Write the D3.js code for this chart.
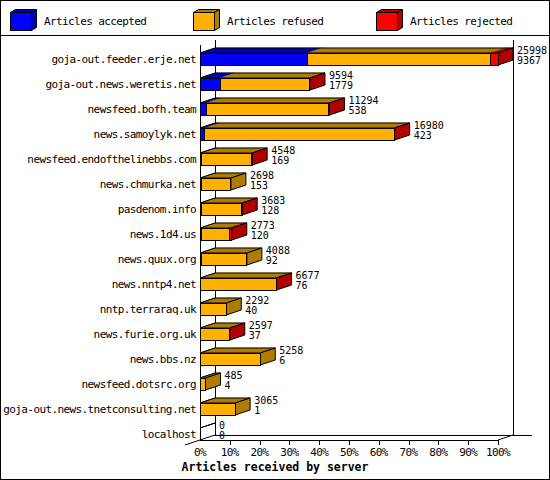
<!DOCTYPE html>
<html>
<head>
<meta charset="utf-8">
<script src="https://cdn.jsdelivr.net/npm/d3@7"></script>
<style>
	body { margin: 0; background: #fff; }
	text { font-family: "DejaVu Sans Mono", monospace; font-size: 11px; letter-spacing: -0.6px; fill: #000; }
	text.count { font-size: 10px; letter-spacing: 0px; }
</style>
</head>
<body>
<div id="serverchart"></div>
<script>
var hosts = [
	"goja-out.feeder.erje.net",
	"goja-out.news.weretis.net",
	"newsfeed.bofh.team",
	"news.samoylyk.net",
	"newsfeed.endofthelinebbs.com",
	"news.chmurka.net",
	"pasdenom.info",
	"news.1d4.us",
	"news.quux.org",
	"news.nntp4.net",
	"nntp.terraraq.uk",
	"news.furie.org.uk",
	"news.bbs.nz",
	"newsfeed.dotsrc.org",
	"goja-out.news.tnetconsulting.net",
	"localhost"
];
var accepted = [9367, 1779, 538, 423, 169, 153, 128, 120, 92, 76, 40, 37, 6, 4, 1, 0];
var refused  = [15981, 7775, 10716, 16507, 4359, 2545, 3535, 2453, 3996, 6561, 2252, 2540, 5252, 481, 3064, 0];
var rejected = [650, 40, 40, 50, 20, 0, 20, 200, 0, 40, 0, 20, 0, 0, 0, 0];
var legendLabels = ["Articles accepted", "Articles refused", "Articles rejected"];
var tickValues = [0, 0.1, 0.2, 0.3, 0.4, 0.5, 0.6, 0.7, 0.8, 0.9, 1];
var axisTitle = "Articles received by server";

var colorList = ["#0000ff", "#ffb000", "#ff0000"];
var darkList  = ["#0000b0", "#b07c00", "#b00000"];

var width = 550, height = 480;
var depthX = 15, depthY = 5;

var svg = d3.select("#serverchart").append("svg")
	.attr("width", width)
	.attr("height", height)
	.style("display", "block");

svg.append("rect")
	.attr("x", 0.5).attr("y", 0.5)
	.attr("width", width - 1).attr("height", height - 1)
	.attr("fill", "#fff").attr("stroke", "#000");

svg.append("line")
	.attr("x1", 0).attr("x2", width)
	.attr("y1", 35.5).attr("y2", 35.5)
	.attr("stroke", "#000");

// legend with little 3d boxes
var legend = svg.selectAll(".legend")
	.data(legendLabels)
	.enter()
	.append("g")
	.attr("class", "legend")
	.attr("transform", function (d, i) {
		return "translate(" + (10 + i * 183) + ",0)";
	});
legend.append("polygon")
	.attr("points", "0.5,12.5 5.5,9.5 26.5,9.5 21.5,12.5")
	.attr("fill", function (d, i) { return darkList[i]; })
	.attr("stroke", "#000");
legend.append("polygon")
	.attr("points", "21.5,12.5 26.5,9.5 26.5,27.5 21.5,30.5")
	.attr("fill", function (d, i) { return darkList[i]; })
	.attr("stroke", "#000");
legend.append("rect")
	.attr("x", 0.5).attr("y", 12.5)
	.attr("width", 21).attr("height", 18)
	.attr("fill", function (d, i) { return colorList[i]; })
	.attr("stroke", "#000");
legend.append("text")
	.attr("x", 34)
	.attr("y", 21)
	.attr("dy", "0.36em")
	.text(function (d) { return d; });

// build rows
var rows = [];
for (var i = 0; i < hosts.length; i++) {
	rows.push({
		host: hosts[i],
		values: [accepted[i], refused[i], rejected[i]],
		total: accepted[i] + refused[i] + rejected[i]
	});
}
var maxTotal = d3.max(rows, function (d) { return d.total; });

var x = d3.scaleLinear()
	.domain([0, 1])
	.range([200, 498]);
var y = d3.scaleBand()
	.domain(hosts)
	.range([40, 440]);

var x0 = x(0), x1 = x(1);
var wall = svg.append("g")
	.attr("stroke", "#000")
	.attr("shape-rendering", "crispEdges");
wall.append("line").attr("x1", x0).attr("x2", x0).attr("y1", 45).attr("y2", 440);
wall.append("line").attr("x1", x0 + depthX).attr("x2", x0 + depthX).attr("y1", 40).attr("y2", 435);
wall.append("line").attr("x1", x1 + depthX).attr("x2", x1 + depthX).attr("y1", 40).attr("y2", 435);
wall.append("line").attr("x1", x0 + depthX).attr("x2", x1 + depthX + 19).attr("y1", 435).attr("y2", 435);
wall.append("line").attr("x1", x0).attr("x2", x1).attr("y1", 440).attr("y2", 440);
svg.append("line")
	.attr("x1", x0 - depthX).attr("y1", 440 + depthY)
	.attr("x2", x0 + depthX).attr("y2", 440 - depthY)
	.attr("stroke", "#000");
svg.append("line")
	.attr("x1", x1).attr("y1", 440)
	.attr("x2", x1 + depthX).attr("y2", 440 - depthY)
	.attr("stroke", "#000");

// x axis ticks and labels
var xAxis = svg.append("g").attr("class", "xaxis");
xAxis.selectAll("line")
	.data(tickValues.slice(1))
	.enter()
	.append("line")
	.attr("x1", function (d) { return Math.round(x(d)) + 0.5; })
	.attr("x2", function (d) { return Math.round(x(d)) + 0.5; })
	.attr("y1", 440).attr("y2", 445)
	.attr("stroke", "#000");
xAxis.selectAll("text")
	.data(tickValues)
	.enter()
	.append("text")
	.attr("x", function (d) { return x(d); })
	.attr("y", 452)
	.attr("dy", "0.36em")
	.attr("text-anchor", "middle")
	.text(d3.format(".0%"));

svg.append("text")
	.attr("x", width / 2)
	.attr("y", 467)
	.attr("dy", "0.36em")
	.attr("text-anchor", "middle")
	.style("font-weight", "bold")
	.style("font-size", "11.5px")
	.style("letter-spacing", "0px")
	.text(axisTitle);

// the 3d stacked bars
var bars = svg.selectAll(".bar")
	.data(rows)
	.enter()
	.append("g")
	.attr("class", "bar");

bars.each(function (d) {
	var g = d3.select(this);
	var ft = y(d.host) + 13, fh = 12;
	var segs = [], acc = 0;
	d.values.forEach(function (v, k) {
		var a = x(acc / maxTotal);
		acc += v;
		var b = x(acc / maxTotal);
		segs.push({x0: a, x1: b, k: k, v: v});
	});
	var xe = x(d.total / maxTotal);
	var last = 1;
	segs.forEach(function (s) { if (s.v > 0) last = s.k; });

	segs.forEach(function (s) {
		if (s.v <= 0) return;
		g.append("polygon")
			.attr("points", [[s.x0, ft], [s.x0 + depthX, ft - depthY], [s.x1 + depthX, ft - depthY], [s.x1, ft]].join(" "))
			.attr("fill", darkList[s.k])
			.attr("stroke", darkList[s.k])
			.attr("stroke-width", 0.5);
	});
	// outline of the top face
	g.append("polygon")
		.attr("points", [[x0, ft], [x0 + depthX, ft - depthY], [xe + depthX, ft - depthY], [xe, ft]].join(" "))
		.attr("fill", "none")
		.attr("stroke", "#000");
	if (d.total > 0) {
		g.append("polygon")
			.attr("points", [[xe, ft], [xe + depthX, ft - depthY], [xe + depthX, ft + fh - depthY], [xe, ft + fh]].join(" "))
			.attr("fill", darkList[last])
			.attr("stroke", "#000");
	}
	segs.forEach(function (s) {
		if (s.v <= 0) return;
		g.append("rect")
			.attr("x", s.x0).attr("y", ft)
			.attr("width", s.x1 - s.x0).attr("height", fh)
			.attr("fill", colorList[s.k])
			.attr("stroke", "#000")
			.attr("shape-rendering", "crispEdges");
	});

	g.append("text")
		.attr("x", 196)
		.attr("y", ft + fh / 2)
		.attr("dy", "0.36em")
		.attr("text-anchor", "end")
		.text(d.host);
	g.append("text")
		.attr("class", "count")
		.attr("x", xe + depthX + 4)
		.attr("y", ft - 3)
		.attr("dy", "0.36em")
		.text(d.total);
	g.append("text")
		.attr("class", "count")
		.attr("x", xe + depthX + 4)
		.attr("y", ft + 7.5)
		.attr("dy", "0.36em")
		.text(d.values[0]);
});
</script>
</body>
</html>
